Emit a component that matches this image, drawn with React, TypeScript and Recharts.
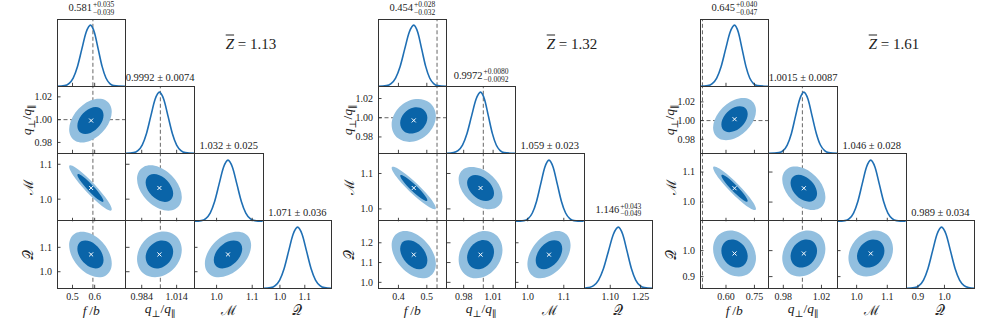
import React from 'react'
import { ComposedChart, Line, Scatter, XAxis, YAxis, ReferenceLine, Curve } from 'recharts'

const SERIF = '"Liberation Serif", "DejaVu Serif", serif'
const LINE_BLUE = '#1f6fb4'
const INNER_BLUE = '#0a64a8'
const OUTER_BLUE = '#92bfdf'
const FRAME = '#333333'
const DASH = '#666666'

const PANEL_X = [57, 378, 700]
const GRID_TOP = 19
const CELL_W = 68.7
const CELL_H = 67.3
const AXIS_THIN = 0.01

// normalised 1D marginal heights, read at the sample points listed per curve
const PEAK_PROFILE = [0, 0.011, 0.044, 0.135, 0.325, 0.607, 0.883, 1, 0.883, 0.607, 0.325, 0.135, 0.044, 0.011, 0]

// ---------- Z = 1.13 ----------
const P1_ZBAR = '1.13'
const P1_DOMAINS = [[0.43, 0.74], [0.9705, 1.0295], [0.9366, 1.1294], [0.932, 1.208]]
const P1_XTICKS = [[0.5, 0.6], [0.984, 1.014], [1.0, 1.1], [1.0, 1.1]]
const P1_XDEC = [1, 3, 1, 1]
const P1_YTICKS = [[], [0.98, 1.0, 1.02], [1.0, 1.1], [1.0, 1.1]]
const P1_YDEC = [1, 2, 1, 1]
const P1_TRUTH = [0.592, 1.0]
const P1_CENTER = [0.584, 0.9992, 1.032, 1.071]
const P1_TITLES = [['0.581', '+0.035', '−0.039'], ['0.9992', '0.0074'], ['1.032', '0.025'], ['1.071', '0.036']]
const P1_FB_X = [0.43, 0.464, 0.4835, 0.503, 0.5225, 0.542, 0.5615, 0.581, 0.5985, 0.616, 0.6335, 0.651, 0.6685, 0.686, 0.74]
const P1_QP_X = [0.9705, 0.977, 0.9807, 0.9844, 0.9881, 0.9918, 0.9955, 0.9992, 1.0029, 1.0066, 1.0103, 1.014, 1.0177, 1.0214, 1.0295]
const P1_M_X = [0.9366, 0.957, 0.9695, 0.982, 0.9945, 1.007, 1.0195, 1.032, 1.0445, 1.057, 1.0695, 1.082, 1.0945, 1.107, 1.1294]
const P1_QC_X = [0.932, 0.963, 0.981, 0.999, 1.017, 1.035, 1.053, 1.071, 1.089, 1.107, 1.125, 1.143, 1.161, 1.179, 1.208]
const P1_FB_QP_OUT = [[0.6876, 1.0077], [0.6563, 1.019], [0.581, 1.0187], [0.5057, 1.007], [0.4744, 0.9907], [0.5057, 0.9794], [0.581, 0.9797], [0.6563, 0.9914]]
const P1_FB_QP_IN = [[0.6465, 1.0044], [0.6273, 1.0114], [0.581, 1.0112], [0.5347, 1.004], [0.5155, 0.994], [0.5347, 0.987], [0.581, 0.9872], [0.6273, 0.9944]]
const P1_FB_M_OUT = [[0.6876, 0.9643], [0.6563, 1.0015], [0.581, 1.0566], [0.5057, 1.0972], [0.4744, 1.0997], [0.5057, 1.0625], [0.581, 1.0074], [0.6563, 0.9668]]
const P1_FB_M_IN = [[0.6465, 0.9904], [0.6273, 1.0133], [0.581, 1.0471], [0.5347, 1.0721], [0.5155, 1.0736], [0.5347, 1.0507], [0.581, 1.0169], [0.6273, 0.9919]]
const P1_FB_QC_OUT = [[0.6876, 1.0295], [0.6563, 1.1089], [0.581, 1.166], [0.5057, 1.1675], [0.4744, 1.1125], [0.5057, 1.0331], [0.581, 0.976], [0.6563, 0.9745]]
const P1_FB_QC_IN = [[0.6465, 1.0455], [0.6273, 1.0943], [0.581, 1.1294], [0.5347, 1.1303], [0.5155, 1.0965], [0.5347, 1.0477], [0.581, 1.0126], [0.6273, 1.0117]]
const P1_QP_M_OUT = [[1.0205, 1.0032], [1.0143, 1.0583], [0.9992, 1.098], [0.9841, 1.099], [0.9779, 1.0608], [0.9841, 1.0057], [0.9992, 0.966], [1.0143, 0.965]]
const P1_QP_M_IN = [[1.0123, 1.0143], [1.0085, 1.0482], [0.9992, 1.0726], [0.9899, 1.0732], [0.9861, 1.0497], [0.9899, 1.0159], [0.9992, 0.9915], [1.0085, 0.9908]]
const P1_QP_QC_OUT = [[1.0205, 1.0917], [1.0143, 1.1575], [0.9992, 1.1726], [0.9841, 1.1282], [0.9779, 1.0503], [0.9841, 0.9845], [0.9992, 0.9694], [1.0143, 1.0138]]
const P1_QP_QC_IN = [[1.0123, 1.0837], [1.0085, 1.1241], [0.9992, 1.1334], [0.9899, 1.1061], [0.9861, 1.0583], [0.9899, 1.0179], [0.9992, 1.0086], [1.0085, 1.0359]]
const P1_M_QC_OUT = [[1.104, 1.1125], [1.0829, 1.1675], [1.032, 1.166], [0.9811, 1.1089], [0.96, 1.0295], [0.9811, 0.9745], [1.032, 0.976], [1.0829, 1.0331]]
const P1_M_QC_IN = [[1.0763, 1.0965], [1.0633, 1.1303], [1.032, 1.1294], [1.0007, 1.0943], [0.9878, 1.0455], [1.0007, 1.0117], [1.032, 1.0126], [1.0633, 1.0477]]

// ---------- Z = 1.32 ----------
const P2_ZBAR = '1.32'
const P2_DOMAINS = [[0.328, 0.57], [0.963, 1.033], [0.965, 1.155], [0.97, 1.31]]
const P2_XTICKS = [[0.4, 0.5], [0.98, 1.01], [1.0, 1.1], [1.1, 1.25]]
const P2_XDEC = [1, 2, 1, 2]
const P2_YTICKS = [[], [0.98, 1.0, 1.02], [1.0, 1.1], [1.0, 1.1, 1.2]]
const P2_YDEC = [1, 2, 1, 1]
const P2_TRUTH = [0.536, 1.0]
const P2_CENTER = [0.454, 0.9972, 1.059, 1.14]
const P2_TITLES = [['0.454', '+0.028', '−0.032'], ['0.9972', '+0.0080', '−0.0092'], ['1.059', '0.023'], ['1.146', '+0.043', '−0.049']]
const P2_FB_X = [0.328, 0.358, 0.374, 0.39, 0.406, 0.422, 0.438, 0.454, 0.468, 0.482, 0.496, 0.51, 0.524, 0.538, 0.57]
const P2_QP_X = [0.963, 0.9696, 0.9742, 0.9788, 0.9834, 0.988, 0.9926, 0.9972, 1.0012, 1.0052, 1.0092, 1.0132, 1.0172, 1.0212, 1.033]
const P2_M_X = [0.965, 0.99, 1.0015, 1.013, 1.0245, 1.036, 1.0475, 1.059, 1.0705, 1.082, 1.0935, 1.105, 1.1165, 1.128, 1.155]
const P2_QC_X = [0.97, 0.993, 1.0175, 1.042, 1.0665, 1.091, 1.1155, 1.14, 1.1615, 1.183, 1.2045, 1.226, 1.2475, 1.269, 1.31]
const P2_FB_QP_OUT = [[0.5404, 1.0022], [0.5151, 1.0179], [0.454, 1.0215], [0.3929, 1.0109], [0.3676, 0.9923], [0.3929, 0.9765], [0.454, 0.9729], [0.5151, 0.9835]]
const P2_FB_QP_IN = [[0.5071, 1.0002], [0.4915, 1.0099], [0.454, 1.0121], [0.4165, 1.0056], [0.4009, 0.9942], [0.4165, 0.9845], [0.454, 0.9823], [0.4915, 0.9888]]
const P2_FB_M_OUT = [[0.5404, 0.9967], [0.5151, 1.031], [0.454, 1.0816], [0.3929, 1.119], [0.3676, 1.1213], [0.3929, 1.087], [0.454, 1.0364], [0.5151, 0.999]]
const P2_FB_M_IN = [[0.5071, 1.0207], [0.4915, 1.0418], [0.454, 1.0729], [0.4165, 1.0959], [0.4009, 1.0973], [0.4165, 1.0762], [0.454, 1.0451], [0.4915, 1.0221]]
const P2_FB_QC_OUT = [[0.5404, 1.087], [0.5151, 1.1884], [0.454, 1.2614], [0.3929, 1.2633], [0.3676, 1.193], [0.3929, 1.0916], [0.454, 1.0186], [0.5151, 1.0167]]
const P2_FB_QC_IN = [[0.5071, 1.1074], [0.4915, 1.1697], [0.454, 1.2146], [0.4165, 1.2158], [0.4009, 1.1726], [0.4165, 1.1103], [0.454, 1.0654], [0.4915, 1.0642]]
const P2_QP_M_OUT = [[1.022, 1.0325], [1.0147, 1.0832], [0.9972, 1.1197], [0.9797, 1.1206], [0.9724, 1.0855], [0.9797, 1.0348], [0.9972, 0.9983], [1.0147, 0.9974]]
const P2_QP_M_IN = [[1.0124, 1.0427], [1.008, 1.0739], [0.9972, 1.0963], [0.9864, 1.0969], [0.982, 1.0753], [0.9864, 1.0441], [0.9972, 1.0217], [1.008, 1.0211]]
const P2_QP_QC_OUT = [[1.022, 1.1665], [1.0147, 1.2505], [0.9972, 1.2698], [0.9797, 1.213], [0.9724, 1.1135], [0.9797, 1.0295], [0.9972, 1.0102], [1.0147, 1.067]]
const P2_QP_QC_IN = [[1.0124, 1.1563], [1.008, 1.2079], [0.9972, 1.2198], [0.9864, 1.1849], [0.982, 1.1237], [0.9864, 1.0721], [0.9972, 1.0602], [1.008, 1.0951]]
const P2_M_QC_OUT = [[1.1252, 1.193], [1.1058, 1.2633], [1.059, 1.2614], [1.0122, 1.1884], [0.9928, 1.087], [1.0122, 1.0167], [1.059, 1.0186], [1.1058, 1.0916]]
const P2_M_QC_IN = [[1.0997, 1.1726], [1.0878, 1.2158], [1.059, 1.2146], [1.0302, 1.1697], [1.0183, 1.1074], [1.0302, 1.0642], [1.059, 1.0654], [1.0878, 1.1103]]

// ---------- Z = 1.61 ----------
const P3_ZBAR = '1.61'
const P3_DOMAINS = [[0.463, 0.825], [0.965, 1.037], [0.936, 1.16], [0.855, 1.114]]
const P3_XTICKS = [[0.6, 0.75], [0.98, 1.02], [1.0, 1.1], [0.9, 1.0]]
const P3_XDEC = [2, 2, 1, 1]
const P3_YTICKS = [[], [0.98, 1.0, 1.02], [1.0, 1.1], [0.9, 1.0]]
const P3_YDEC = [1, 2, 1, 1]
const P3_TRUTH = [0.476, 1.0]
const P3_CENTER = [0.645, 1.0015, 1.046, 0.989]
const P3_TITLES = [['0.645', '+0.040', '−0.047'], ['1.0015', '0.0087'], ['1.046', '0.028'], ['0.989', '0.034']]
const P3_FB_X = [0.463, 0.504, 0.5275, 0.551, 0.5745, 0.598, 0.6215, 0.645, 0.665, 0.685, 0.705, 0.725, 0.745, 0.765, 0.825]
const P3_QP_X = [0.965, 0.9754, 0.9798, 0.9841, 0.9885, 0.9928, 0.9972, 1.0015, 1.0059, 1.0102, 1.0146, 1.0189, 1.0233, 1.0276, 1.037]
const P3_M_X = [0.936, 0.962, 0.976, 0.99, 1.004, 1.018, 1.032, 1.046, 1.06, 1.074, 1.088, 1.102, 1.116, 1.13, 1.16]
const P3_QC_X = [0.855, 0.887, 0.904, 0.921, 0.938, 0.955, 0.972, 0.989, 1.006, 1.023, 1.04, 1.057, 1.074, 1.091, 1.114]
const P3_FB_QP_OUT = [[0.7703, 1.0115], [0.7336, 1.0248], [0.645, 1.0245], [0.5564, 1.0107], [0.5197, 0.9915], [0.5564, 0.9782], [0.645, 0.9785], [0.7336, 0.9924]]
const P3_FB_QP_IN = [[0.722, 1.0077], [0.6994, 1.0158], [0.645, 1.0156], [0.5906, 1.0071], [0.568, 0.9953], [0.5906, 0.9872], [0.645, 0.9874], [0.6994, 0.9959]]
const P3_FB_M_OUT = [[0.7703, 0.9702], [0.7336, 1.0119], [0.645, 1.0735], [0.5564, 1.1191], [0.5197, 1.1218], [0.5564, 1.0801], [0.645, 1.0185], [0.7336, 0.9729]]
const P3_FB_M_IN = [[0.722, 0.9994], [0.6994, 1.025], [0.645, 1.0629], [0.5906, 1.0909], [0.568, 1.0926], [0.5906, 1.067], [0.645, 1.0291], [0.6994, 1.0011]]
const P3_FB_QC_OUT = [[0.7703, 0.9694], [0.7336, 1.043], [0.645, 1.0849], [0.5564, 1.0707], [0.5197, 1.0086], [0.5564, 0.935], [0.645, 0.8931], [0.7336, 0.9073]]
const P3_FB_QC_IN = [[0.722, 0.977], [0.6994, 1.0222], [0.645, 1.048], [0.5906, 1.0392], [0.568, 1.001], [0.5906, 0.9558], [0.645, 0.93], [0.6994, 0.9388]]
const P3_QP_M_OUT = [[1.0266, 1.0137], [1.0192, 1.0755], [1.0015, 1.1199], [0.9838, 1.121], [0.9764, 1.0783], [0.9838, 1.0165], [1.0015, 0.9721], [1.0192, 0.971]]
const P3_QP_M_IN = [[1.0169, 1.0262], [1.0124, 1.0641], [1.0015, 1.0914], [0.9906, 1.0921], [0.9861, 1.0658], [0.9906, 1.0279], [1.0015, 1.0006], [1.0124, 0.9999]]
const P3_QP_QC_OUT = [[1.0266, 1.0086], [1.0192, 1.0707], [1.0015, 1.0849], [0.9838, 1.043], [0.9764, 0.9694], [0.9838, 0.9073], [1.0015, 0.8931], [1.0192, 0.935]]
const P3_QP_QC_IN = [[1.0169, 1.001], [1.0124, 1.0392], [1.0015, 1.048], [0.9906, 1.0222], [0.9861, 0.977], [0.9906, 0.9388], [1.0015, 0.93], [1.0124, 0.9558]]
const P3_M_QC_OUT = [[1.1266, 1.0086], [1.103, 1.0707], [1.046, 1.0849], [0.989, 1.043], [0.9654, 0.9694], [0.989, 0.9073], [1.046, 0.8931], [1.103, 0.935]]
const P3_M_QC_IN = [[1.0956, 1.001], [1.081, 1.0392], [1.046, 1.048], [1.011, 1.0222], [0.9964, 0.977], [1.011, 0.9388], [1.046, 0.93], [1.081, 0.9558]]

const PANELS = [
  {
    zbar: P1_ZBAR, domains: P1_DOMAINS, xTicks: P1_XTICKS, xDec: P1_XDEC, yTicks: P1_YTICKS, yDec: P1_YDEC,
    truth: P1_TRUTH, center: P1_CENTER, titles: P1_TITLES, curves: [P1_FB_X, P1_QP_X, P1_M_X, P1_QC_X],
    contours: {
      '01': [P1_FB_QP_OUT, P1_FB_QP_IN], '02': [P1_FB_M_OUT, P1_FB_M_IN], '03': [P1_FB_QC_OUT, P1_FB_QC_IN],
      '12': [P1_QP_M_OUT, P1_QP_M_IN], '13': [P1_QP_QC_OUT, P1_QP_QC_IN], '23': [P1_M_QC_OUT, P1_M_QC_IN],
    },
  },
  {
    zbar: P2_ZBAR, domains: P2_DOMAINS, xTicks: P2_XTICKS, xDec: P2_XDEC, yTicks: P2_YTICKS, yDec: P2_YDEC,
    truth: P2_TRUTH, center: P2_CENTER, titles: P2_TITLES, curves: [P2_FB_X, P2_QP_X, P2_M_X, P2_QC_X],
    contours: {
      '01': [P2_FB_QP_OUT, P2_FB_QP_IN], '02': [P2_FB_M_OUT, P2_FB_M_IN], '03': [P2_FB_QC_OUT, P2_FB_QC_IN],
      '12': [P2_QP_M_OUT, P2_QP_M_IN], '13': [P2_QP_QC_OUT, P2_QP_QC_IN], '23': [P2_M_QC_OUT, P2_M_QC_IN],
    },
  },
  {
    zbar: P3_ZBAR, domains: P3_DOMAINS, xTicks: P3_XTICKS, xDec: P3_XDEC, yTicks: P3_YTICKS, yDec: P3_YDEC,
    truth: P3_TRUTH, center: P3_CENTER, titles: P3_TITLES, curves: [P3_FB_X, P3_QP_X, P3_M_X, P3_QC_X],
    contours: {
      '01': [P3_FB_QP_OUT, P3_FB_QP_IN], '02': [P3_FB_M_OUT, P3_FB_M_IN], '03': [P3_FB_QC_OUT, P3_FB_QC_IN],
      '12': [P3_QP_M_OUT, P3_QP_M_IN], '13': [P3_QP_QC_OUT, P3_QP_QC_IN], '23': [P3_M_QC_OUT, P3_M_QC_IN],
    },
  },
]

const TICK_LEN = 3.5
const NO_MARGIN = { top: 0, right: 0, bottom: 0, left: 0 }

// inward matplotlib-style ticks, labels only on the outer edge of the grid
function tickRenderer(side: string, dec: number | null) {
  return (p: any) => {
    const { x, y, payload } = p
    let d = ''
    if (side === 'bottom') d = `M${x},${y}V${y - TICK_LEN}`
    if (side === 'top') d = `M${x},${y}V${y + TICK_LEN}`
    if (side === 'left') d = `M${x},${y}H${x + TICK_LEN}`
    if (side === 'right') d = `M${x},${y}H${x - TICK_LEN}`
    const txt = dec === null ? null : Number(payload.value).toFixed(dec)
    return (
      <g>
        <path d={d} stroke={FRAME} strokeWidth={0.9} />
        {txt && side === 'bottom' && (
          <text x={x} y={y + 11.5} textAnchor="middle" fontFamily={SERIF} fontSize={10} fill="#222">{txt}</text>
        )}
        {txt && side === 'left' && (
          <text x={x - 5} y={y + 3.4} textAnchor="end" fontFamily={SERIF} fontSize={10} fill="#222">{txt}</text>
        )}
      </g>
    )
  }
}

const noDot = () => <g />
const crossMark = (p: any) => (
  <path d={`M${p.cx - 2},${p.cy - 2}L${p.cx + 2},${p.cy + 2}M${p.cx - 2},${p.cy + 2}L${p.cx + 2},${p.cy - 2}`} stroke="#fff" strokeWidth={1} />
)
const blob = (color: string) => (p: any) => <Curve points={p.points} type="basisClosed" fill={color} stroke="none" />

function Frame() {
  return (
    <div style={{
      position: 'absolute', left: -0.5, top: -0.5, width: CELL_W + 1, height: CELL_H + 1,
      border: `1px solid ${FRAME}`, boxSizing: 'border-box', pointerEvents: 'none',
    }} />
  )
}

function DiagCell({ left, top, dom, ticks, dec, truth, xs }: any) {
  const data = xs.map((x: number, k: number) => ({ x, y: PEAK_PROFILE[k] }))
  return (
    <div style={{ position: 'absolute', left, top, width: CELL_W, height: CELL_H }}>
      <ComposedChart width={CELL_W} height={CELL_H} margin={NO_MARGIN} data={data}>
        <XAxis type="number" dataKey="x" domain={dom} ticks={ticks} interval={0} height={AXIS_THIN}
          axisLine={false} tickLine={false} tickSize={0} tickMargin={0} tick={tickRenderer('bottom', dec)} />
        <YAxis hide domain={[0, 1.1]} />
        {truth !== null && <ReferenceLine x={truth} stroke={DASH} strokeDasharray="4 2.5" strokeWidth={1} />}
        <Line dataKey="y" type="monotone" stroke={LINE_BLUE} strokeWidth={1.6} dot={false} isAnimationActive={false} />
      </ComposedChart>
      <Frame />
    </div>
  )
}

function PairCell({ left, top, xDom, yDom, xTicks, yTicks, xDec, yDec, outer, inner, center, vTruth, hTruth }: any) {
  const toPts = (a: number[][]) => a.map(([x, y]) => ({ x, y }))
  const axisBits = { axisLine: false, tickLine: false, tickSize: 0, tickMargin: 0, interval: 0 as const }
  return (
    <div style={{ position: 'absolute', left, top, width: CELL_W, height: CELL_H }}>
      <ComposedChart width={CELL_W} height={CELL_H} margin={NO_MARGIN}>
        <XAxis xAxisId="b" type="number" dataKey="x" domain={xDom} ticks={xTicks} height={AXIS_THIN} {...axisBits} tick={tickRenderer('bottom', xDec)} />
        <XAxis xAxisId="t" orientation="top" type="number" dataKey="x" domain={xDom} ticks={xTicks} height={AXIS_THIN} {...axisBits} tick={tickRenderer('top', null)} />
        <YAxis yAxisId="l" type="number" dataKey="y" domain={yDom} ticks={yTicks} width={AXIS_THIN} {...axisBits} tick={tickRenderer('left', yDec)} />
        <YAxis yAxisId="r" orientation="right" type="number" dataKey="y" domain={yDom} ticks={yTicks} width={AXIS_THIN} {...axisBits} tick={tickRenderer('right', null)} />
        <Scatter xAxisId="b" yAxisId="l" data={toPts(outer)} fill={OUTER_BLUE} shape={noDot} line={blob(OUTER_BLUE)} isAnimationActive={false} />
        <Scatter xAxisId="b" yAxisId="l" data={toPts(inner)} fill={INNER_BLUE} shape={noDot} line={blob(INNER_BLUE)} isAnimationActive={false} />
        {vTruth !== null && <ReferenceLine xAxisId="b" yAxisId="l" x={vTruth} stroke={DASH} strokeDasharray="4 2.5" strokeWidth={1} />}
        {hTruth !== null && <ReferenceLine xAxisId="b" yAxisId="l" y={hTruth} stroke={DASH} strokeDasharray="4 2.5" strokeWidth={1} />}
        <Scatter xAxisId="b" yAxisId="l" data={[center]} fill="#fff" shape={crossMark} isAnimationActive={false} />
      </ComposedChart>
      <Frame />
    </div>
  )
}

function Title({ cx, bottom, t }: any) {
  return (
    <div style={{
      position: 'absolute', left: cx, top: bottom, transform: 'translate(-50%, -100%)',
      fontFamily: SERIF, fontSize: 10.5, color: '#222', whiteSpace: 'nowrap',
      display: 'flex', alignItems: 'center', lineHeight: 1,
    }}>
      <span>{t[0]}</span>
      {t.length === 2 ? (
        <span>&nbsp;±&nbsp;{t[1]}</span>
      ) : (
        <span style={{ display: 'inline-flex', flexDirection: 'column', fontSize: 7.5, lineHeight: '7.5px', marginLeft: 1 }}>
          <span>{t[1]}</span>
          <span>{t[2]}</span>
        </span>
      )}
    </div>
  )
}

const AXIS_NAMES = [
  <span><i>f</i>&thinsp;/<i>b</i></span>,
  <span><i>q</i><sub style={{ fontSize: 9.5 }}>⊥</sub>/<i>q</i><sub style={{ fontSize: 9.5 }}>∥</sub></span>,
  <span>ℳ</span>,
  <span>𝒬</span>,
]

function Panel({ p, x0 }: any) {
  const items: any[] = []
  for (let i = 0; i < 4; i++) {
    for (let j = 0; j <= i; j++) {
      const left = x0 + j * CELL_W
      const top = GRID_TOP + i * CELL_H
      if (i === j) {
        items.push(
          <DiagCell key={`d${i}`} left={left} top={top} dom={p.domains[j]} ticks={p.xTicks[j]}
            dec={i === 3 ? p.xDec[j] : null} truth={j < 2 ? p.truth[j] : null} xs={p.curves[j]} />,
        )
        items.push(<Title key={`t${i}`} cx={left + CELL_W / 2} bottom={top - 3} t={p.titles[j]} />)
      } else {
        const [outer, inner] = p.contours[`${j}${i}`]
        items.push(
          <PairCell key={`c${j}${i}`} left={left} top={top}
            xDom={p.domains[j]} yDom={p.domains[i]} xTicks={p.xTicks[j]} yTicks={p.yTicks[i]}
            xDec={i === 3 ? p.xDec[j] : null} yDec={j === 0 ? p.yDec[i] : null}
            outer={outer} inner={inner} center={{ x: p.center[j], y: p.center[i] }}
            vTruth={j < 2 ? p.truth[j] : null} hTruth={i === 1 ? p.truth[1] : null} />,
        )
      }
    }
  }
  for (let j = 0; j < 4; j++) {
    items.push(
      <div key={`xl${j}`} style={{
        position: 'absolute', left: x0 + (j + 0.5) * CELL_W, top: 311, transform: 'translate(-50%, -50%)',
        fontFamily: SERIF, fontSize: 13.5, color: '#222', whiteSpace: 'nowrap', lineHeight: 1,
      }}>{AXIS_NAMES[j]}</div>,
    )
  }
  for (let i = 1; i < 4; i++) {
    items.push(
      <div key={`yl${i}`} style={{
        position: 'absolute', left: x0 - 28, top: GRID_TOP + (i + 0.5) * CELL_H,
        transform: 'translate(-50%, -50%) rotate(-90deg)',
        fontFamily: SERIF, fontSize: 13.5, color: '#222', whiteSpace: 'nowrap', lineHeight: 1,
      }}>{AXIS_NAMES[i]}</div>,
    )
  }
  items.push(
    <div key="z" style={{
      position: 'absolute', left: x0 + 194, top: 44, transform: 'translate(-50%, -50%)',
      fontFamily: SERIF, fontSize: 15, color: '#222', whiteSpace: 'nowrap',
    }}>
      <i style={{ textDecoration: 'overline' }}>Z</i> = {p.zbar}
    </div>,
  )
  return <>{items}</>
}

export default function App() {
  return (
    <div style={{ position: 'absolute', left: 0, top: 0, width: 996, height: 322, background: '#fff', overflow: 'hidden' }}>
      <style>{'.recharts-surface{overflow:visible !important}'}</style>
      {PANELS.map((p, k) => <Panel key={k} p={p} x0={PANEL_X[k]} />)}
    </div>
  )
}
